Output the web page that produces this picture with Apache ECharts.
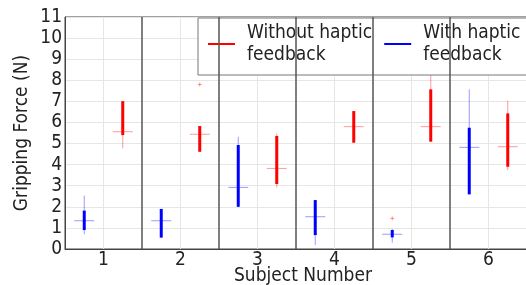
<!DOCTYPE html>
<html>
<head>
<meta charset="utf-8">
<script src="https://cdn.jsdelivr.net/npm/echarts@6/dist/echarts.min.js"></script>
<style>
  html, body { margin: 0; padding: 0; background: #fff; }
  #chart { width: 526px; height: 285px; }
</style>
</head>
<body>
<div id="chart"></div>
<script>
// subjects on the x axis
const subjects = [1, 2, 3, 4, 5, 6]
const yTicks = [0, 1, 2, 3, 4, 5, 6, 7, 8, 9, 10, 11]

// box stats per subject: lower whisker, q1, median, q3, upper whisker
const withLow  = [0.70, 0.54, 2.00, 0.19, 0.30, 2.59]
const withQ1   = [0.90, 0.54, 2.00, 0.66, 0.55, 2.59]
const withMed  = [1.34, 1.34, 2.92, 1.53, 0.70, 4.82]
const withQ3   = [1.82, 1.90, 4.93, 2.32, 0.90, 5.75]
const withHigh = [2.53, 1.90, 5.32, 2.32, 0.95, 7.57]

const withoutLow  = [4.77, 4.61, 2.92, 5.04, 5.09, 3.74]
const withoutQ1   = [5.40, 4.61, 3.08, 5.04, 5.09, 3.90]
const withoutMed  = [5.56, 5.44, 3.82, 5.80, 5.80, 4.85]
const withoutQ3   = [7.01, 5.83, 5.36, 6.54, 7.57, 6.43]
const withoutHigh = [7.01, 5.83, 5.48, 6.54, 8.40, 7.03]

// outliers: [subject, value]
const withOutliers = [[5, 1.45]]
const withoutOutliers = [[2, 7.8]]

const offset = 0.25
const boxData = (lo, q1, med, q3, hi, dx) =>
  subjects.map((s, i) => [s + dx, lo[i], q1[i], med[i], q3[i], hi[i]])

const makeBoxItem = (color, light) => (params, api) => {
  const x = api.value(0)
  const pLo = api.coord([x, api.value(1)])
  const pQ1 = api.coord([x, api.value(2)])
  const pMed = api.coord([x, api.value(3)])
  const pQ3 = api.coord([x, api.value(4)])
  const pHi = api.coord([x, api.value(5)])
  return {
    type: 'group',
    children: [
      { type: 'line', shape: { x1: pLo[0], y1: pLo[1], x2: pHi[0], y2: pHi[1] },
        style: { stroke: light, lineWidth: 1 } },
      { type: 'line', shape: { x1: pQ1[0], y1: pQ1[1], x2: pQ3[0], y2: pQ3[1] },
        style: { stroke: color, lineWidth: 3 } },
      { type: 'line', shape: { x1: pMed[0] - 10, y1: pMed[1], x2: pMed[0] + 10, y2: pMed[1] },
        style: { stroke: light, lineWidth: 1 } }
    ]
  }
}

const plusItem = (params, api) => {
  const p = api.coord([api.value(0), api.value(1)])
  return {
    type: 'group',
    children: [
      { type: 'line', shape: { x1: p[0] - 2, y1: p[1], x2: p[0] + 2, y2: p[1] },
        style: { stroke: 'rgba(255,0,0,0.4)', lineWidth: 1 } },
      { type: 'line', shape: { x1: p[0], y1: p[1] - 2, x2: p[0], y2: p[1] + 2 },
        style: { stroke: 'rgba(255,0,0,0.4)', lineWidth: 1 } }
    ]
  }
}

const chart = echarts.init(document.getElementById('chart'))
const font = 'DejaVu Sans Condensed, DejaVu Sans'

chart.setOption({
  animation: false,
  textStyle: { fontFamily: font },
  grid: {
    left: 65, top: 17, width: 462, height: 232,
    outerBoundsMode: 'none',
    show: true, borderColor: '#444', borderWidth: 1
  },
  legend: {
    left: 198, top: 18, width: 420,
    orient: 'horizontal',
    backgroundColor: '#fff',
    borderColor: '#777', borderWidth: 1,
    padding: [4, 10, 9, 10],
    itemGap: 12,
    itemWidth: 27, itemHeight: 2,
    icon: 'rect',
    textStyle: { fontFamily: font, fontSize: 19, lineHeight: 22, color: '#222', padding: [0, 0, 0, 7] },
    data: ['Without haptic\nfeedback', 'With haptic\nfeedback']
  },
  xAxis: {
    type: 'value',
    min: 0.5, max: 6.5, interval: 0.5,
    name: 'Subject Number',
    nameLocation: 'middle',
    nameGap: 18,
    nameMoveOverlap: false,
    nameTextStyle: { fontFamily: font, fontSize: 19, color: '#222', padding: [0, 0, 0, 14] },
    axisLine: { lineStyle: { color: '#444' } },
    axisTick: { show: false },
    axisLabel: {
      fontFamily: font, fontSize: 19, color: '#222', margin: 2,
      formatter: v => (subjects.includes(v) ? String(v) : '')
    },
    splitLine: { show: true, lineStyle: { color: ['rgba(0,0,0,0)', '#e6e6e6'], width: 1 } }
  },
  yAxis: {
    type: 'value',
    min: yTicks[0], max: yTicks[yTicks.length - 1], interval: 1,
    name: 'Gripping Force (N)',
    nameLocation: 'middle',
    nameGap: 33,
    nameMoveOverlap: false,
    nameTextStyle: { fontFamily: font, fontSize: 19, color: '#222' },
    axisLine: { show: true, lineStyle: { color: '#444' } },
    axisTick: { show: false },
    axisLabel: { fontFamily: font, fontSize: 19, color: '#222', margin: 3 },
    splitLine: { show: true, lineStyle: { color: '#e6e6e6' } }
  },
  series: [
    {
      name: 'Without haptic\nfeedback',
      type: 'custom',
      color: '#ff0000',
      renderItem: makeBoxItem('#ff0000', 'rgba(255,0,0,0.4)'),
      data: boxData(withoutLow, withoutQ1, withoutMed, withoutQ3, withoutHigh, offset),
      z: 3,
      markLine: {
        silent: true,
        symbol: 'none',
        label: { show: false },
        lineStyle: { color: '#555', width: 1.5, type: 'solid' },
        data: subjects.slice(1).map(s => ({ xAxis: s - 0.5 }))
      }
    },
    {
      name: 'With haptic\nfeedback',
      type: 'custom',
      color: '#0000ff',
      renderItem: makeBoxItem('#0000ff', 'rgba(0,0,255,0.4)'),
      data: boxData(withLow, withQ1, withMed, withQ3, withHigh, -offset),
      z: 3
    },
    {
      name: 'outliers',
      type: 'custom',
      renderItem: plusItem,
      data: withoutOutliers.map(d => [d[0] + offset, d[1]])
        .concat(withOutliers.map(d => [d[0] - offset, d[1]])),
      z: 3
    }
  ]
})
</script>
</body>
</html>
